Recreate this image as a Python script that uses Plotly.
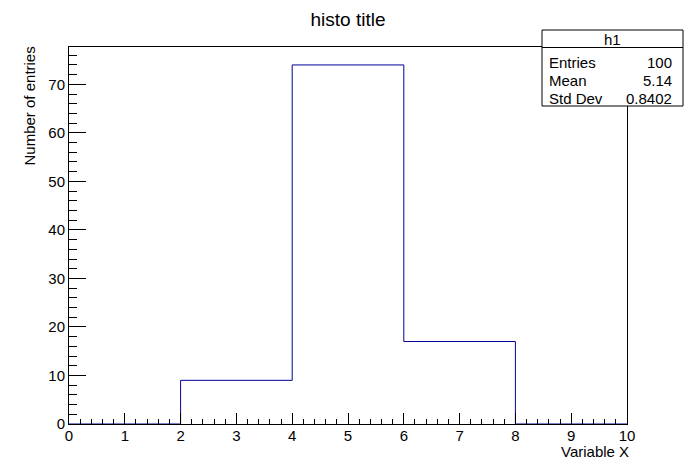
"""
ROOT-style histogram in plotly
"""
import plotly.graph_objects as go

# histogram data
bin_edges = [0, 2, 4, 6, 8, 10]
counts = [0, 9, 74, 17, 0]
hist_name = 'h1'
stat_labels = ['Entries', 'Mean', 'Std Dev']
stat_values = ['100', '5.14', '0.8402']

# page offset (html body margin), positions below are page pixels
OX, OY = 8, 8
W, H = 696 - OX, 472 - OY
L, R, T, B = 69 - OX, 627 - OX, 47 - OY, 424 - OY
font = 'Liberation Sans, Arial, sans-serif'


def px(x):
    return (x - OX - L) / (R - L)


def py(y):
    return (B - (y - OY)) / (B - T)


# step outline: last value repeated so 'hv' closes the last bin
step_x = bin_edges
step_y = counts + [counts[-1]]

fig = go.Figure()
fig.add_trace(go.Scatter(x=step_x, y=step_y, mode='lines', line_shape='hv',
                         line=dict(color='#000099', width=1), showlegend=False,
                         hoverinfo='skip'))

ymax = max(counts) * 1.05

fig.update_xaxes(range=[bin_edges[0], bin_edges[-1]], dtick=1, tick0=0,
                 ticks='inside', ticklen=11, tickwidth=1, tickcolor='black',
                 minor=dict(ticks='inside', ticklen=5, dtick=0.2, tickcolor='black', tickwidth=1),
                 showline=True, linecolor='black', linewidth=1, mirror=True,
                 showgrid=False, zeroline=False, ticklabelstandoff=-2,
                 tickfont=dict(family=font, size=15, color='black'))
fig.update_yaxes(range=[0, ymax], dtick=10, tick0=0,
                 ticks='inside', ticklen=17, tickwidth=1, tickcolor='black',
                 minor=dict(ticks='inside', ticklen=8, dtick=2, tickcolor='black', tickwidth=1),
                 showline=True, linecolor='black', linewidth=1, mirror=True,
                 showgrid=False, zeroline=False,
                 tickfont=dict(family=font, size=15, color='black'))

# stats box
fig.add_shape(type='rect', xref='paper', yref='paper',
              x0=px(542), x1=px(683), y0=py(106), y1=py(30),
              line=dict(color='black', width=1), fillcolor='white', layer='above')
fig.add_shape(type='line', xref='paper', yref='paper',
              x0=px(542), x1=px(683), y0=py(47.5), y1=py(47.5),
              line=dict(color='black', width=1), layer='above')
fig.add_annotation(text=hist_name, xref='paper', yref='paper', x=px(612.5), y=py(39.5),
                   xanchor='center', yanchor='middle', showarrow=False,
                   font=dict(family=font, size=15, color='black'))
for i, (lab, val) in enumerate(zip(stat_labels, stat_values)):
    yy = py(62 + i * 18.2)
    fig.add_annotation(text=lab, xref='paper', yref='paper', x=px(547), y=yy,
                       xanchor='left', yanchor='middle', showarrow=False,
                       font=dict(family=font, size=15, color='black'))
    fig.add_annotation(text=val, xref='paper', yref='paper', x=px(674), y=yy,
                       xanchor='right', yanchor='middle', showarrow=False,
                       font=dict(family=font, size=15, color='black'))

# axis titles
fig.add_annotation(text='Variable X', xref='paper', yref='paper', x=px(631), y=py(451),
                   xanchor='right', yanchor='middle', showarrow=False,
                   font=dict(family=font, size=15, color='black'))
fig.add_annotation(text='Number of entries', xref='paper', yref='paper', x=px(29), y=py(45),
                   xanchor='center', yanchor='top', textangle=-90, showarrow=False,
                   font=dict(family=font, size=15, color='black'))

fig.update_layout(width=W, height=H, margin=dict(l=L, r=W - R, t=T, b=H - B),
                  paper_bgcolor='white', plot_bgcolor='white',
                  title=dict(text='histo title', x=(348 - OX) / W, xanchor='center',
                             y=1 - (19 - OY) / H, yanchor='middle',
                             font=dict(family=font, size=19, color='black')))

fig.write_html('out.html')
